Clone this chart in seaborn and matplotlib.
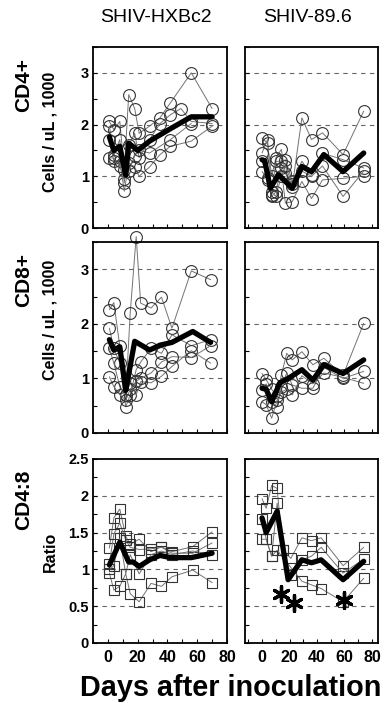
import numpy as np
import pandas as pd
import matplotlib
matplotlib.use("Agg")
import matplotlib.pyplot as plt
from matplotlib.ticker import MultipleLocator
import seaborn as sns

# ---------------------------
# data
# ---------------------------
nan = np.nan

# SHIV-HXBc2, CD4+
hx_cd4_days = [1, 4, 8, 11, 14, 18, 21, 28, 35, 42, 49, 56, 70]
hx_cd4 = [
    [2.06, 1.90, 2.06, 1.13, 2.58, 2.31, 1.83, 1.97, 2.13, 2.42, nan, 3.00, 2.31],
    [1.97, 1.42, 1.71, 0.87, 1.60, 1.83, 1.36, 1.71, 2.02, 2.19, 2.31, 2.06, 2.02],
    [1.71, 1.29, 1.30, 0.71, 1.25, 1.18, 1.00, 1.18, 1.42, 1.58, nan, 1.68, 1.97],
    [1.36, 1.35, 1.20, 0.95, 1.10, 1.40, 1.50, 1.45, nan, 1.71, nan, 2.02, nan],
]
hx_cd4_mean_days = [1, 4, 8, 12, 14, 20, 28, 35, 42, 56, 70]
hx_cd4_mean = [1.76, 1.50, 1.58, 1.02, 1.64, 1.50, 1.68, 1.80, 1.92, 2.15, 2.15]

# SHIV-HXBc2, CD8+
hx_cd8_days = [1, 4, 8, 12, 15, 19, 22, 29, 36, 43, 56, 69]
hx_cd8 = [
    [2.26, 2.39, 1.59, 0.70, 2.20, 3.60, 2.38, 2.29, 2.49, 1.92, 2.97, 2.81],
    [1.92, 1.55, 1.28, 0.48, 0.70, 1.16, 1.30, 1.55, 1.46, 1.80, 1.60, 1.71],
    [1.55, 1.28, 0.85, 0.70, 0.92, 0.70, 0.94, 0.92, 1.04, 1.22, 1.51, 1.28],
    [1.03, 0.85, 0.70, 0.60, 0.80, 0.95, 1.00, 1.10, 1.30, 1.40, 1.38, 1.60],
]
hx_cd8_mean_days = [1, 4, 8, 12, 18, 28, 35, 43, 57, 69]
hx_cd8_mean = [1.71, 1.52, 1.58, 0.78, 1.68, 1.52, 1.61, 1.66, 1.86, 1.66]

# SHIV-HXBc2, CD4:8 ratio
hx_ratio_days = [1, 4, 8, 12, 15, 21, 29, 36, 43, 57, 70]
hx_ratio = [
    [1.29, 1.70, 1.82, 1.45, 1.34, 1.41, 1.24, 1.31, 1.24, 1.31, 1.51],
    [1.08, 1.48, 1.63, 1.40, 1.30, 1.27, 1.28, 1.30, 1.22, 1.22, 1.36],
    [0.95, 0.72, 0.77, 0.94, 0.67, 0.56, 0.81, 0.77, 0.90, 0.99, 0.82],
    [1.00, 1.05, 1.42, 0.94, 1.20, 0.94, 1.20, 1.25, 1.20, 1.25, 1.20],
]
hx_ratio_mean_days = [1, 8, 14, 17, 21, 28, 35, 42, 56, 70]
hx_ratio_mean = [1.06, 1.37, 1.10, 1.10, 1.04, 1.13, 1.19, 1.16, 1.16, 1.22]

# SHIV-89.6, CD4+
sv_cd4_days = [0, 4, 7, 10, 14, 17, 22, 29, 36, 44, 59, 74]
sv_cd4 = [
    [1.74, 1.64, 1.00, 1.35, 1.52, 1.06, 0.80, 2.13, 1.71, 1.84, 1.42, 2.26],
    [1.45, 1.71, 0.64, 1.29, 1.29, 1.32, 0.90, 1.29, 1.03, 1.45, 1.32, 1.16],
    [1.09, 0.96, 0.61, 0.70, 1.16, 0.48, 0.51, 0.90, 0.57, 0.93, 0.96, 1.00],
    [1.30, 0.93, 0.70, 0.61, 1.00, 1.20, 0.85, 1.10, 1.00, 1.20, 0.61, 1.10],
]
sv_cd4_mean_days = [0, 2, 6, 12, 22, 29, 36, 45, 59, 74]
sv_cd4_mean = [1.32, 1.30, 0.77, 1.03, 0.77, 1.19, 1.09, 1.42, 1.09, 1.45]

# SHIV-89.6, CD8+
sv_cd8_days = [0, 3, 7, 11, 14, 18, 22, 29, 37, 45, 59, 74]
sv_cd8 = [
    [1.09, 0.98, 0.80, 0.67, 1.06, 1.46, 1.34, 1.49, 1.25, 1.37, 1.06, 2.01],
    [0.79, 0.90, 0.57, 0.48, 0.85, 1.10, 0.88, 0.82, 0.82, 1.20, 1.00, 1.13],
    [0.57, 0.52, 0.27, 0.60, 0.75, 0.80, 0.70, 1.05, 0.90, 1.10, 1.02, 0.91],
]
sv_cd8_mean_days = [0, 3, 7, 13, 19, 29, 37, 45, 59, 74]
sv_cd8_mean = [0.82, 0.80, 0.57, 0.92, 1.00, 1.16, 0.97, 1.25, 1.09, 1.34]

# SHIV-89.6, CD4:8 ratio
sv_ratio_days = [0, 3, 7, 11, 15, 21, 29, 36, 43, 59, 74]
sv_ratio = [
    [1.96, 1.83, 2.14, 2.10, 1.26, 1.15, 1.43, 1.39, 1.43, 1.05, 1.30],
    [1.69, 1.41, 1.18, 1.90, 1.26, 0.93, 1.13, 1.18, 1.30, 0.95, 1.14],
    [1.41, 1.41, 1.18, 1.26, nan, nan, 0.84, 0.79, 0.74, 0.56, 0.88],
]
sv_ratio_mean_days = [0, 3, 11, 19, 29, 36, 43, 59, 74]
sv_ratio_mean = [1.70, 1.50, 1.79, 0.86, 1.13, 1.09, 1.13, 0.86, 1.11]
sv_star_days = [14, 23, 60]
sv_star_vals = [0.66, 0.54, 0.58]

# ---------------------------
# style
# ---------------------------
sns.set_style("ticks")
plt.rcParams['font.family'] = ['Liberation Sans', 'DejaVu Sans']
plt.rcParams['font.weight'] = 'bold'
plt.rcParams['text.color'] = 'black'
plt.rcParams['xtick.color'] = 'black'
plt.rcParams['ytick.color'] = 'black'

W, H = 388, 703
fig = plt.figure(figsize=(W / 100, H / 100), dpi=100)


def box(x0, y0, x1, y1):
    # pixel box -> figure fraction
    return [x0 / W, 1 - y1 / H, (x1 - x0) / W, (y1 - y0) / H]


def long_form(days, animals):
    rows = []
    for i, vals in enumerate(animals):
        for d, v in zip(days, vals):
            if not np.isnan(v):
                rows.append({'day': d, 'val': v, 'animal': i})
    return pd.DataFrame(rows)


def panel(rect, days, animals, mdays, mvals, marker, ylim, step, xlim,
          ylabels, xlabels):
    ax = fig.add_axes(rect)
    df = long_form(days, animals)
    sns.lineplot(data=df, x='day', y='val', units='animal', estimator=None,
                 color='0.45', lw=0.7, marker=marker, mfc='none', mec='0.2',
                 ms=8.5 if marker == 'o' else 7.5, mew=0.8, ax=ax, legend=False)
    sns.lineplot(x=mdays, y=mvals, color='black', lw=3.8, ax=ax)
    for ln in ax.lines:
        ln.set_clip_on(False)
    ax.set_xlim(*xlim)
    ax.set_ylim(*ylim)
    ax.yaxis.set_major_locator(MultipleLocator(step))
    ax.yaxis.set_minor_locator(MultipleLocator(step / 2))
    ax.xaxis.set_major_locator(MultipleLocator(20))
    ax.xaxis.set_minor_locator(MultipleLocator(10))
    for yv in np.arange(step, ylim[1] - 1e-6, step):
        ax.axhline(yv, color='0.4', lw=0.8, ls=(0, (4, 4)), zorder=0)
    ax.tick_params(which='both', direction='in', length=3, width=0.8,
                   top=False, right=False)
    ax.tick_params(axis='y', labelsize=10.5, pad=3)
    ax.tick_params(axis='x', labelsize=11.5, pad=5)
    if not ylabels:
        ax.set_yticklabels([])
    else:
        ax.set_yticklabels([f'{t:g}' for t in ax.get_yticks()])
    if not xlabels:
        ax.set_xticklabels([])
    for s in ax.spines.values():
        s.set_visible(True)
        s.set_linewidth(1.3)
        s.set_color('black')
    ax.set_xlabel('')
    ax.set_ylabel('')
    return ax


lx, rx = (93, 227), (245, 378)
rows = [(47, 228), (242, 433), (459, 643)]
xl_left, xl_right = (-10, 80), (-12.4, 84.4)

panel(box(lx[0], rows[0][0], lx[1], rows[0][1]), hx_cd4_days, hx_cd4,
      hx_cd4_mean_days, hx_cd4_mean, 'o', (0, 3.5), 1, xl_left, True, False)
panel(box(rx[0], rows[0][0], rx[1], rows[0][1]), sv_cd4_days, sv_cd4,
      sv_cd4_mean_days, sv_cd4_mean, 'o', (0, 3.5), 1, xl_right, False, False)
panel(box(lx[0], rows[1][0], lx[1], rows[1][1]), hx_cd8_days, hx_cd8,
      hx_cd8_mean_days, hx_cd8_mean, 'o', (0, 3.5), 1, xl_left, True, False)
panel(box(rx[0], rows[1][0], rx[1], rows[1][1]), sv_cd8_days, sv_cd8,
      sv_cd8_mean_days, sv_cd8_mean, 'o', (0, 3.5), 1, xl_right, False, False)
panel(box(lx[0], rows[2][0], lx[1], rows[2][1]), hx_ratio_days, hx_ratio,
      hx_ratio_mean_days, hx_ratio_mean, 's', (0, 2.5), 0.5, xl_left, True, True)
ax6 = panel(box(rx[0], rows[2][0], rx[1], rows[2][1]), sv_ratio_days, sv_ratio,
            sv_ratio_mean_days, sv_ratio_mean, 's', (0, 2.5), 0.5, xl_right,
            False, True)
sns.scatterplot(x=sv_star_days, y=sv_star_vals, marker=(6, 2, 0), s=130,
                color='black', linewidth=2.4, ax=ax6, zorder=5)

# titles and labels
def ftext(px, py, s, **kw):
    fig.text(px / W, 1 - py / H, s, **kw)


ftext(156, 17, 'SHIV-HXBc2', ha='center', va='center', fontsize=14,
      fontweight='normal')
ftext(308, 17, 'SHIV-89.6', ha='center', va='center', fontsize=14,
      fontweight='normal')

ftext(24, 85, 'CD4+', rotation=90, ha='center', va='center', fontsize=15,
      fontweight='bold')
ftext(50, 132, 'Cells / uL , 1000', rotation=90, ha='center', va='center',
      fontsize=11.5, fontweight='bold')
ftext(24, 280, 'CD8+', rotation=90, ha='center', va='center', fontsize=15,
      fontweight='bold')
ftext(50, 320, 'Cells / uL , 1000', rotation=90, ha='center', va='center',
      fontsize=11.5, fontweight='bold')
ftext(24, 500, 'CD4:8', rotation=90, ha='center', va='center', fontsize=15,
      fontweight='bold')
ftext(50, 552, 'Ratio', rotation=90, ha='center', va='center', fontsize=11.5,
      fontweight='bold')

# the reference crops this label at the right edge; keep it just inside
ftext(80, 688, 'Days after inoculation', ha='left', va='center',
      fontsize=20.8, fontweight='bold')

fig.savefig('out.png', dpi=100)
